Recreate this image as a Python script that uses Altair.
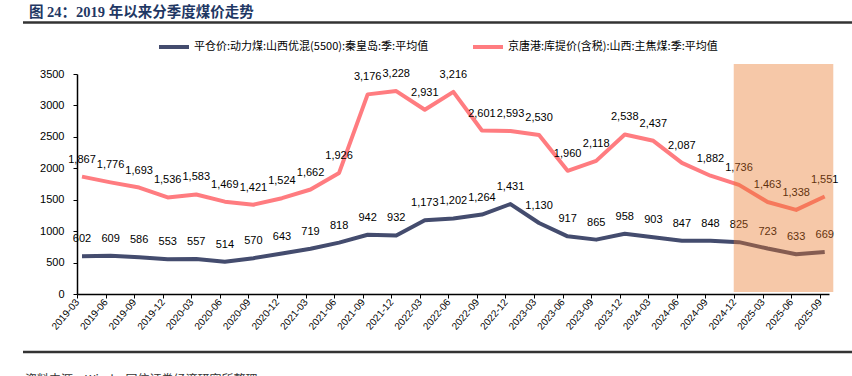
import altair as alt
import pandas as pd

# ---------------- data ----------------
periods = ["2019-03", "2019-06", "2019-09", "2019-12",
           "2020-03", "2020-06", "2020-09", "2020-12",
           "2021-03", "2021-06", "2021-09", "2021-12",
           "2022-03", "2022-06", "2022-09", "2022-12",
           "2023-03", "2023-06", "2023-09", "2023-12",
           "2024-03", "2024-06", "2024-09", "2024-12",
           "2025-03", "2025-06", "2025-09"]
thermal_coal = [602, 609, 586, 553, 557, 514, 570, 643, 719, 818, 942, 932,
                1173, 1202, 1264, 1431, 1130, 917, 865, 958, 903, 847, 848,
                825, 723, 633, 669]
coking_coal = [1867, 1776, 1693, 1536, 1583, 1469, 1421, 1524, 1662, 1926,
               3176, 3228, 2931, 3216, 2601, 2593, 2530, 1960, 2118, 2538,
               2437, 2087, 1882, 1736, 1463, 1338, 1551]
series_names = ["平仓价:动力煤:山西优混(5500):秦皇岛:季:平均值",
                "京唐港:库提价(含税):山西:主焦煤:季:平均值"]
series_colors = ["#444C6E", "#FF7C80"]
y_ticks = [0, 500, 1000, 1500, 2000, 2500, 3000, 3500]
shade_from = "2024-12"
title_text = "图 24：2019 年以来分季度煤价走势"
source_text = "资料来源：Wind，国信证券经济研究所整理"

# ---------------- tables ----------------
rows = []
for s, vals in zip(series_names, [thermal_coal, coking_coal]):
    for i, (p, v) in enumerate(zip(periods, vals)):
        rows.append({"idx": i, "period": p, "value": v, "series": s,
                     "label": f"{v:,}"})
df = pd.DataFrame(rows)

tick_off = 0.175
n = len(periods)
x_domain = [-tick_off, n - 1 + 0.15]
tick_vals = [i - tick_off for i in range(n)]
label_expr = "[" + ",".join(f"'{p}'" for p in periods) + "][round(datum.value + %s)]" % tick_off

shade_df = pd.DataFrame({"x0": [periods.index(shade_from) - tick_off - 0.01],
                         "x1": [n - 1 + 0.3], "y0": [30], "y1": [3660]})

xs = alt.Scale(domain=x_domain, nice=False, zero=False)
ys = alt.Scale(domain=[0, 3500], nice=False)

x_axis = alt.Axis(values=tick_vals, labelExpr=label_expr, labelAngle=-50,
                  labelFont="Liberation Sans", labelFontSize=10, labelColor="#000",
                  tickColor="#000", domainColor="#000", tickSize=4, grid=False,
                  title=None, labelOverlap=False, labelPadding=2, domainWidth=1.5)
y_axis = alt.Axis(values=y_ticks, format="d", labelFont="Liberation Sans",
                  labelFontSize=11, labelColor="#000", tickColor="#000",
                  domainColor="#000", tickSize=4, grid=False, title=None,
                  labelPadding=9, domainWidth=1.5, labelOverlap=False)

lines = alt.Chart(df).mark_line(strokeWidth=4, strokeJoin="round").encode(
    x=alt.X("idx:Q", scale=xs, axis=x_axis),
    y=alt.Y("value:Q", scale=ys, axis=y_axis),
    color=alt.Color("series:N",
                    scale=alt.Scale(domain=series_names, range=series_colors),
                    sort=series_names,
                    legend=alt.Legend(orient="none", legendX=80, legendY=-44,
                                      direction="horizontal", title=None,
                                      symbolType="stroke", symbolStrokeWidth=4,
                                      symbolSize=900, labelFont="Noto Sans CJK SC",
                                      labelFontSize=11, labelColor="#000",
                                      labelLimit=600, columnPadding=36,
                                      labelOffset=3)),
)

labels = alt.Chart(df).mark_text(dy=-17, font="Liberation Sans", fontSize=11,
                                 color="#000").encode(
    x=alt.X("idx:Q", scale=xs, axis=x_axis),
    y=alt.Y("value:Q", scale=ys, axis=y_axis),
    text="label:N",
)

shade = alt.Chart(shade_df).mark_rect(color="#E87525", opacity=0.4).encode(
    x=alt.X("x0:Q", scale=xs, axis=x_axis), x2="x1:Q",
    y=alt.Y("y0:Q", scale=ys, axis=y_axis), y2="y1:Q",
)

title = alt.Chart(pd.DataFrame({"t": [title_text]})).mark_text(
    align="left", baseline="middle", font="Liberation Serif, Noto Sans CJK SC",
    fontSize=14.5, fontWeight="bold", color="#1F3864").encode(
    x=alt.value(-48), y=alt.value(-61), text="t:N")

top_rule = alt.Chart(pd.DataFrame({"a": [0]})).mark_rule(
    strokeWidth=2.5, color="#333").encode(
    x=alt.value(-54), x2=alt.value(775), y=alt.value(-51.5))
bottom_rule = alt.Chart(pd.DataFrame({"a": [0]})).mark_rule(
    strokeWidth=2.5, color="#333").encode(
    x=alt.value(-54), x2=alt.value(775), y=alt.value(278))

source = alt.Chart(pd.DataFrame({"t": [source_text]})).mark_text(
    align="left", baseline="top", font="Noto Sans CJK SC", fontSize=12,
    color="#333").encode(x=alt.value(-52), y=alt.value(301), text="t:N")

chart = alt.layer(lines, labels, shade, title, top_rule, bottom_rule, source).properties(
    width=752, height=220,
    autosize=alt.AutoSizeParams(type="none"),
    padding={"left": 77, "top": 74, "right": 23, "bottom": 82},
    background="white",
).configure_view(stroke=None)

chart.save("out.html", embed_options={"renderer": "svg", "actions": False})
